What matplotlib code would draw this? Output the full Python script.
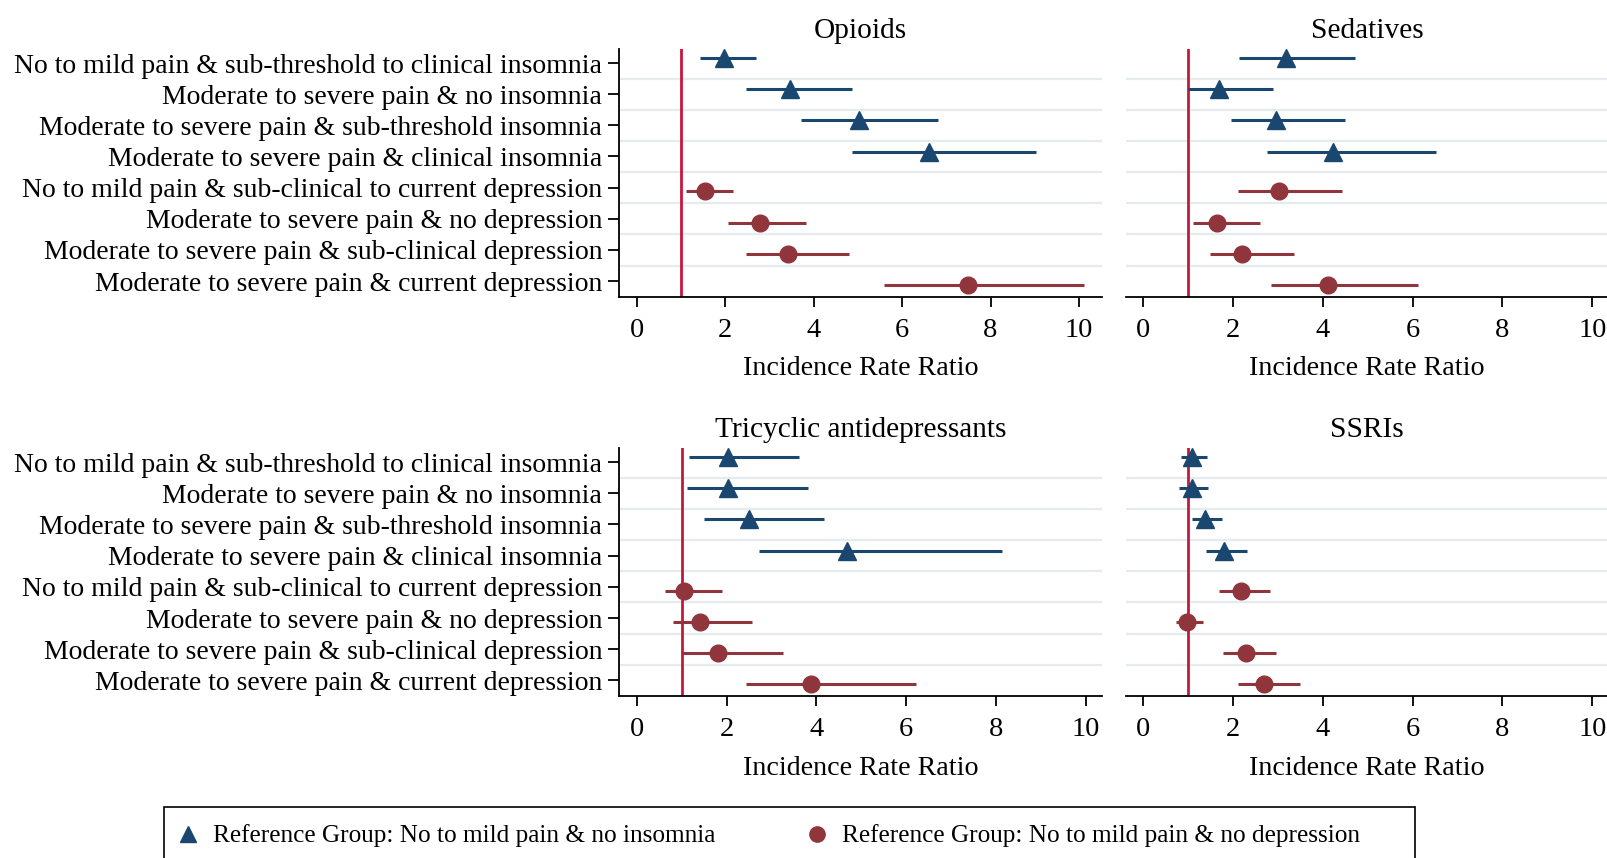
import matplotlib
matplotlib.use("Agg")
import matplotlib.pyplot as plt
from matplotlib.lines import Line2D
from matplotlib.patches import Rectangle
import numpy as np

plt.rcParams['font.family'] = ['Liberation Serif', 'DejaVu Serif']
plt.rcParams['savefig.bbox'] = None

# Row labels (top to bottom); first four rows compare against the no-insomnia
# reference group, last four against the no-depression reference group.
row_labels = [
    "No to mild pain & sub-threshold to clinical insomnia",
    "Moderate to severe pain & no insomnia",
    "Moderate to severe pain & sub-threshold insomnia",
    "Moderate to severe pain & clinical insomnia",
    "No to mild pain & sub-clinical to current depression",
    "Moderate to severe pain & no depression",
    "Moderate to severe pain & sub-clinical depression",
    "Moderate to severe pain & current depression",
]

panel_titles = ["Opioids", "Sedatives", "Tricyclic antidepressants", "SSRIs"]

# Incidence rate ratios with 95% confidence limits
opioids_irr = [1.97, 3.46, 5.02, 6.62, 1.54, 2.79, 3.42, 7.50]
opioids_lo = [1.43, 2.47, 3.71, 4.87, 1.11, 2.07, 2.48, 5.59]
opioids_hi = [2.69, 4.87, 6.82, 9.02, 2.17, 3.83, 4.81, 10.11]

sedatives_irr = [3.18, 1.69, 2.95, 4.23, 3.02, 1.65, 2.20, 4.12]
sedatives_lo = [2.14, 1.00, 1.95, 2.76, 2.10, 1.11, 1.48, 2.84]
sedatives_hi = [4.71, 2.90, 4.49, 6.51, 4.43, 2.60, 3.36, 6.11]

tca_irr = [2.04, 2.04, 2.49, 4.68, 1.06, 1.41, 1.81, 3.87]
tca_lo = [1.17, 1.12, 1.49, 2.73, 0.62, 0.80, 1.00, 2.43]
tca_hi = [3.62, 3.81, 4.18, 8.13, 1.90, 2.57, 3.26, 6.21]

ssri_irr = [1.08, 1.08, 1.37, 1.80, 2.18, 0.98, 2.28, 2.69]
ssri_lo = [0.84, 0.80, 1.08, 1.40, 1.69, 0.73, 1.78, 2.12]
ssri_hi = [1.41, 1.45, 1.75, 2.31, 2.82, 1.34, 2.95, 3.49]

x_ticks = [0, 2, 4, 6, 8, 10]
legend_labels = [
    "Reference Group: No to mild pain & no insomnia",
    "Reference Group: No to mild pain & no depression",
]

NAVY = "#1a476f"
MAROON = "#90353b"
REFLINE = "#c8163f"
GRID = "#e4ecef"

W, H = 1608, 858
fig = plt.figure(figsize=(W / 100, H / 100), dpi=100)


def px_axes(x0, x1, y0, y1):
    return fig.add_axes([x0 / W, 1 - y1 / H, (x1 - x0) / W, (y1 - y0) / H])


panels = [
    (px_axes(619, 1102, 49, 296.7), (-0.40, 10.52), True,
     opioids_irr, opioids_lo, opioids_hi),
    (px_axes(1126, 1608, 49, 296.7), (-0.385, 10.35), False,
     sedatives_irr, sedatives_lo, sedatives_hi),
    (px_axes(619, 1102, 448, 696), (-0.394, 10.36), True,
     tca_irr, tca_lo, tca_hi),
    (px_axes(1126, 1608, 448, 696), (-0.385, 10.35), False,
     ssri_irr, ssri_lo, ssri_hi),
]

rows = np.arange(len(row_labels))
ins = slice(0, 4)
dep = slice(4, 8)

for (ax, xlim, show_labels, irr, lo, hi), title in zip(panels, panel_titles):
    irr = np.asarray(irr)
    lo = np.asarray(lo)
    hi = np.asarray(hi)

    ax.set_xlim(*xlim)
    ax.set_ylim(7.5, -0.45)

    # light separators between rows
    ax.set_yticks(rows[:-1] + 0.5, minor=True)
    ax.grid(True, which="minor", axis="y", color=GRID, lw=1.6, zorder=0)
    ax.tick_params(axis="y", which="minor", length=0)

    ax.axvline(1, color=REFLINE, lw=2.0, zorder=2)

    ax.errorbar(irr[ins], rows[ins] - 0.16,
                xerr=[irr[ins] - lo[ins], hi[ins] - irr[ins]],
                fmt="^", color=NAVY, ms=13, elinewidth=2.2, capsize=0,
                zorder=3)
    ax.errorbar(irr[dep], rows[dep] + 0.12,
                xerr=[irr[dep] - lo[dep], hi[dep] - irr[dep]],
                fmt="o", color=MAROON, ms=12, elinewidth=2.2, capsize=0,
                zorder=3)

    ax.set_xticks(x_ticks)
    ax.set_xticklabels([str(t) for t in x_ticks])
    ax.tick_params(axis="x", which="major", length=7, width=1.3, pad=8,
                   labelsize=20.5, direction="out")
    ax.set_xlabel("Incidence Rate Ratio", fontsize=20.2, labelpad=10)
    ax.set_title(title, fontsize=21.2, pad=8)

    for side in ("top", "right"):
        ax.spines[side].set_visible(False)
    ax.spines["bottom"].set_linewidth(1.3)

    if show_labels:
        ax.set_yticks(rows)
        ax.set_yticklabels(row_labels)
        ax.tick_params(axis="y", which="major", length=8, width=1.3, pad=4,
                       labelsize=20)
        ax.spines["left"].set_linewidth(1.3)
    else:
        ax.set_yticks(rows)
        ax.tick_params(axis="y", which="major", left=False, labelleft=False)
        ax.spines["left"].set_visible(False)

# legend: frame runs past the bottom edge of the figure
frame = Rectangle((164 / W, 1 - 880 / H), (1415 - 164) / W, 73 / H,
                  transform=fig.transFigure, fill=False, edgecolor="black",
                  lw=1.2)
frame.set_clip_on(True)
frame.set_clip_box(fig.bbox)
frame.set_in_layout(False)
fig.add_artist(frame)

handles = [
    Line2D([], [], ls="none", marker="^", color=NAVY, ms=12),
    Line2D([], [], ls="none", marker="o", color=MAROON, ms=11),
]
leg = fig.legend(handles, legend_labels, loc="center left",
                 bbox_to_anchor=(178 / W, 1 - 836 / H), ncol=2,
                 frameon=False, fontsize=18.2, handlelength=0.8,
                 handletextpad=0.6, columnspacing=3.6, borderpad=0,
                 borderaxespad=0)
leg.set_in_layout(False)

fig.savefig("out.png", dpi=100)
